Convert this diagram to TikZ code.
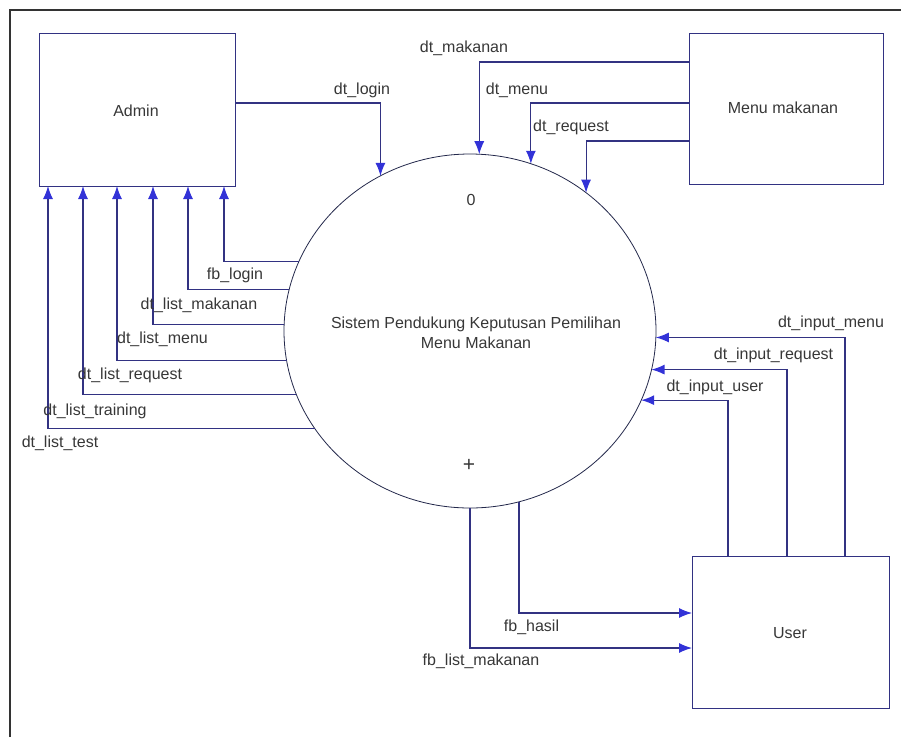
\documentclass[tikz,border=0pt]{standalone}
\usepackage{fontspec}
\setmainfont{Liberation Sans}
\usepackage{xcolor}
\usetikzlibrary{arrows.meta, shapes.geometric}

\definecolor{flowline}{RGB}{50,50,130}
\definecolor{flowtip}{RGB}{50,50,215}
\definecolor{procline}{RGB}{35,40,75}
\definecolor{labeltext}{RGB}{55,55,55}
\newcommand{\lbfont}{\fontsize{16}{20}\selectfont}

\begin{document}
\begin{tikzpicture}[x=1pt, y=-1pt,
    entity/.style={rectangle, draw=flowline, line width=1pt, outer sep=0pt, inner sep=0pt, font=\lbfont, text=labeltext},
    process/.style={ellipse, draw=procline, line width=0.8pt, outer sep=0pt, inner sep=0pt, minimum width=372pt, minimum height=354pt},
    flow/.style={draw=flowline, line width=1.1pt, -{Latex[length=13pt, width=10pt, color=flowtip]}},
    flowlabel/.style={font=\lbfont, text=labeltext, inner sep=1pt},
    frame/.style={draw=black!80, line width=2pt}
]
\useasboundingbox (0,0) rectangle (901,737);
\draw[frame] (10,737) -- (10,10) -- (901,10);

% External entities
\node[entity, minimum width=196pt, minimum height=153pt] (admin) at (137,109.5) {};
\node[flowlabel] (t-admin) at (136,111) {Admin};
\node[entity, minimum width=194pt, minimum height=151pt] (menu) at (786,108.5) {};
\node[flowlabel] (t-menu) at (783,108) {Menu makanan};
\node[entity, minimum width=197pt, minimum height=152pt] (user) at (790.5,632) {};
\node[flowlabel] (t-user) at (790,633) {User};

% Process
\node[process] (proc) at (470,331) {};
\node[flowlabel] (t-num) at (471,200) {0};
\node[flowlabel, align=center] (t-proc) at (476,333) {Sistem Pendukung Keputusan Pemilihan\\Menu Makanan};
\node[flowlabel, font=\fontsize{21}{24}\selectfont] (t-mark) at (469,465) {+};

% Inputs from Admin and Menu makanan
\draw[flow] (admin.east |- 0,103) -| (proc.120.9);
\draw[flow] (menu.west |- 0,62) -| (proc.87.09);
\draw[flow] (menu.west |- 0,103) -| (proc.70.3);
\draw[flow] (menu.west |- 0,141) -| (proc.50.03);
\node[flowlabel] (l-login) at (362,90) {dt\_login};
\node[flowlabel] (l-makanan) at (464,48) {dt\_makanan};
\node[flowlabel] (l-menu) at (517,90) {dt\_menu};
\node[flowlabel] (l-request) at (571,127) {dt\_request};

% Outputs to Admin
\draw[flow] (proc.158.06) -| (admin.south -| 224,0);
\draw[flow] (proc.167.87) -| (admin.south -| 188,0);
\draw[flow] (proc.178.46) -| (admin.south -| 153,0);
\draw[flow] (proc.189.61) -| (admin.south -| 117,0);
\draw[flow] (proc.200.93) -| (admin.south -| 83,0);
\draw[flow] (proc.212.70) -| (admin.south -| 48,0);
\node[flowlabel] (l-fblogin) at (235,275) {fb\_login};
\node[flowlabel] (l-lmakanan) at (199,305) {dt\_list\_makanan};
\node[flowlabel] (l-lmenu) at (162.5,339) {dt\_list\_menu};
\node[flowlabel] (l-lrequest) at (130,375) {dt\_list\_request};
\node[flowlabel] (l-ltraining) at (95,411) {dt\_list\_training};
\node[flowlabel] (l-ltest) at (60,443) {dt\_list\_test};

% Inputs from User
\draw[flow] (user.north -| 845,0) |- (proc.358.15);
\draw[flow] (user.north -| 787,0) |- (proc.348.5);
\draw[flow] (user.north -| 728,0) |- (proc.338.74);
\node[flowlabel] (l-imenu) at (831,323) {dt\_input\_menu};
\node[flowlabel] (l-irequest) at (773.5,355) {dt\_input\_request};
\node[flowlabel] (l-iuser) at (715,387) {dt\_input\_user};

% Outputs to User
\draw[flow] (proc.286) |- (user.west |- 0,613);
\draw[flow] (proc.south) |- (user.west |- 0,648);
\node[flowlabel] (l-hasil) at (531.5,627) {fb\_hasil};
\node[flowlabel] (l-fbmakanan) at (481,661) {fb\_list\_makanan};
\end{tikzpicture}
\end{document}
